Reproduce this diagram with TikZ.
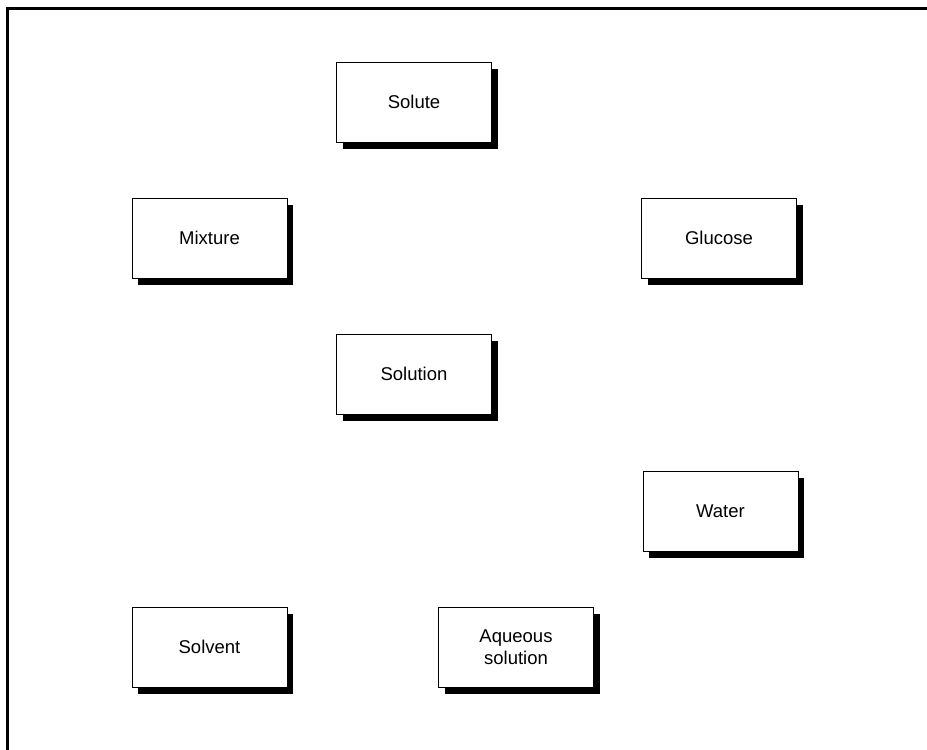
\documentclass[tikz,border=0pt]{standalone}
\usepackage{fontspec}
\setmainfont{Liberation Sans}
\usetikzlibrary{shadows}

\begin{document}
\begin{tikzpicture}[
  x=1pt, y=-1pt,
  term/.style={
    draw=black, fill=white, line width=0.8pt,
    minimum width=155pt, minimum height=80pt,
    font=\fontsize{18.5}{22}\selectfont, align=center,
    drop shadow={shadow xshift=6pt, shadow yshift=-7pt,
      fill=black, opacity=1}
  },
  frame/.style={draw=black, line width=2.6pt},
]
  \useasboundingbox (0,0) rectangle (927,750);
  \draw[frame] (7.3,760) -- (7.3,8.3) -- (935,8.3);

  \node[term] (solute)   at (414,102)   {Solute};
  \node[term] (mixture)  at (209.5,238) {Mixture};
  \node[term] (glucose)  at (719,238)   {Glucose};
  \node[term] (solution) at (414,374)   {Solution};
  \node[term] (water)    at (720.5,511) {Water};
  \node[term] (solvent)  at (209.5,647) {Solvent};
  \node[term] (aqueous)  at (516,647)   {Aqueous\\solution};
\end{tikzpicture}
\end{document}
